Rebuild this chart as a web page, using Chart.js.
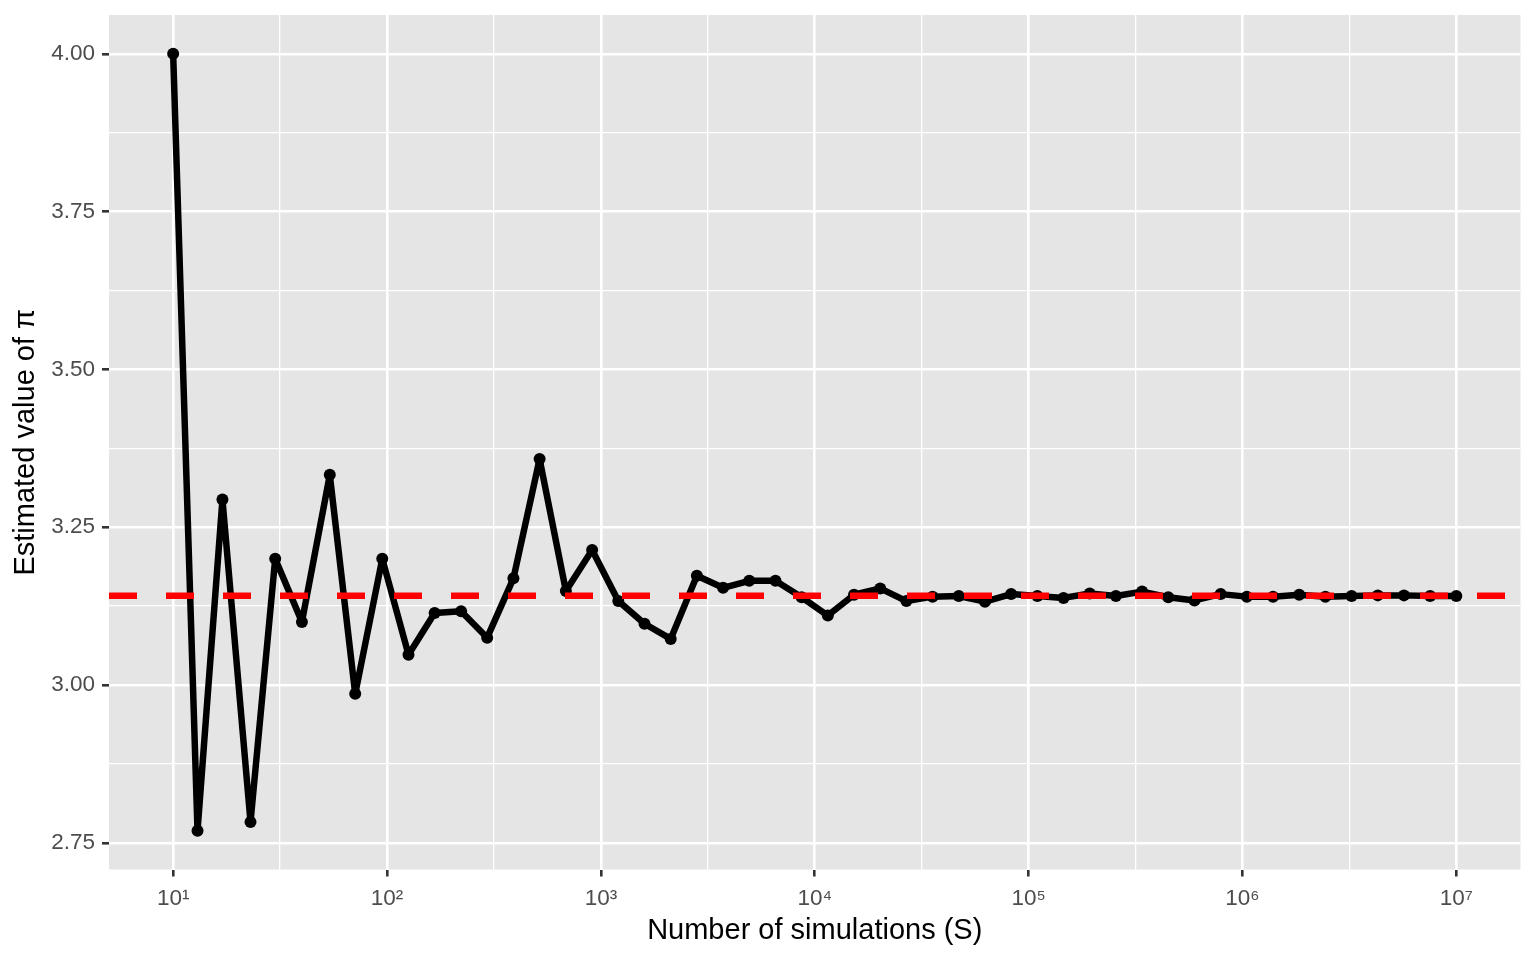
<!DOCTYPE html>
<html>
<head>
<meta charset="utf-8">
<script src="https://cdn.jsdelivr.net/npm/chart.js@4.4.1/dist/chart.umd.min.js"></script>
<style>
  html, body { margin: 0; padding: 0; background: #ffffff; }
  canvas { display: block; }
</style>
</head>
<body>
<canvas id="piChart" width="1536" height="960"></canvas>
<script>
// number of simulations S (log spaced, 10 .. 1e7)
const simulations = [
  10, 13, 17, 23, 30, 40, 54, 71, 95, 126,
  167, 222, 294, 390, 517, 686, 910, 1206, 1600, 2120,
  2811, 3727, 4941, 6551, 8685, 11513, 15264, 20235, 26826, 35564,
  47148, 62505, 82864, 109854, 145634, 193069, 255954, 339322, 449843, 596362,
  790604, 1048113, 1389495, 1842069, 2442053, 3237457, 4291934, 5689866, 7543120, 10000000
];

// estimated value of pi for each S
const piEstimates = [
  4.000, 2.769, 3.294, 2.783, 3.200, 3.100, 3.333, 2.986, 3.200, 3.048,
  3.114, 3.117, 3.075, 3.169, 3.358, 3.149, 3.214, 3.133, 3.097, 3.073,
  3.173, 3.154, 3.165, 3.165, 3.139, 3.110, 3.143, 3.153, 3.133, 3.140,
  3.141, 3.132, 3.144, 3.141, 3.138, 3.145, 3.141, 3.148, 3.139, 3.134,
  3.144, 3.140, 3.140, 3.143, 3.140, 3.141, 3.142, 3.142, 3.141, 3.141
];

const truePi = 3.14159;

// axis ranges and breaks
const xLogMin = 0.7;
const xLogMax = 7.3;
const xBreakExponents = [1, 1.5, 2, 2.5, 3, 3.5, 4, 4.5, 5, 5.5, 6, 6.5, 7];
const yMin = 2.7077;
const yMax = 4.0615;
const yBreaks = [2.75, 2.875, 3.0, 3.125, 3.25, 3.375, 3.5, 3.625, 3.75, 3.875, 4.0];

const superscripts = { 1: '¹', 2: '²', 3: '³', 4: '⁴', 5: '⁵', 6: '⁶', 7: '⁷' };

const FONT = '"Liberation Sans", Arial, Helvetica, sans-serif';
const TICK_TEXT = '#4D4D4D';
const TICK_MARK = '#333333';
const PANEL_BG = '#E5E5E5';

function isMajorX(v) {
  const e = Math.log10(v);
  return Math.abs(e - Math.round(e)) < 1e-6;
}
function isMajorY(v) {
  return Math.abs(v * 4 - Math.round(v * 4)) < 1e-6;
}

const panelBackground = {
  id: 'panelBackground',
  beforeDraw(chart) {
    const { ctx, chartArea: a } = chart;
    ctx.save();
    ctx.fillStyle = PANEL_BG;
    ctx.fillRect(a.left, a.top, a.right - a.left, a.bottom - a.top);
    ctx.restore();
  }
};

function zeroPadding(scale) {
  scale.paddingLeft = 0;
  scale.paddingRight = 0;
  scale.paddingTop = 0;
  scale.paddingBottom = 0;
}

const ctx = document.getElementById('piChart').getContext('2d');

new Chart(ctx, {
  type: 'line',
  data: {
    datasets: [
      {
        label: 'pi',
        data: [
          { x: Math.pow(10, xLogMin), y: truePi },
          { x: Math.pow(10, xLogMax), y: truePi }
        ],
        borderColor: '#FF0000',
        borderWidth: 6.5,
        borderDash: [28, 29],
        borderCapStyle: 'butt',
        pointRadius: 0,
        order: 0
      },
      {
        label: 'estimate',
        data: simulations.map((s, i) => ({ x: s, y: piEstimates[i] })),
        borderColor: '#000000',
        borderWidth: 6.5,
        borderJoinStyle: 'round',
        tension: 0,
        pointRadius: 6,
        pointBorderWidth: 0,
        pointBackgroundColor: '#000000',
        order: 1
      }
    ]
  },
  options: {
    responsive: false,
    animation: false,
    devicePixelRatio: 1,
    layout: { padding: { top: 15, right: 15.5, bottom: 0, left: 0 } },
    plugins: {
      legend: { display: false },
      tooltip: { enabled: false }
    },
    scales: {
      x: {
        type: 'logarithmic',
        position: 'bottom',
        bounds: 'data',
        min: Math.pow(10, xLogMin),
        max: Math.pow(10, xLogMax),
        afterBuildTicks: scale => {
          scale.ticks = xBreakExponents.map(e => ({ value: Math.pow(10, e) }));
        },
        afterFit: scale => {
          scale.height = 90.5;
          zeroPadding(scale);
        },
        border: { display: false },
        grid: {
          color: '#FFFFFF',
          lineWidth: c => (c.tick && isMajorX(c.tick.value)) ? 2.6 : 1.3,
          tickColor: c => (c.tick && isMajorX(c.tick.value)) ? TICK_MARK : 'rgba(0,0,0,0)',
          tickWidth: 2.6,
          tickLength: 7
        },
        ticks: {
          autoSkip: false,
          maxRotation: 0,
          padding: 9,
          color: TICK_TEXT,
          font: { family: FONT, size: 22.5 },
          callback: value => {
            if (!isMajorX(value)) return '';
            return '10' + superscripts[Math.round(Math.log10(value))];
          }
        },
        title: {
          display: true,
          text: 'Number of simulations (S)',
          color: '#000000',
          font: { family: FONT, size: 29 },
          padding: { top: 0, bottom: 11.5 }
        }
      },
      y: {
        type: 'linear',
        position: 'left',
        bounds: 'data',
        min: yMin,
        max: yMax,
        afterBuildTicks: scale => {
          scale.ticks = yBreaks.map(v => ({ value: v }));
        },
        afterFit: scale => {
          scale.width = 109;
          zeroPadding(scale);
        },
        border: { display: false },
        grid: {
          color: '#FFFFFF',
          lineWidth: c => (c.tick && isMajorY(c.tick.value)) ? 2.6 : 1.3,
          tickColor: c => (c.tick && isMajorY(c.tick.value)) ? TICK_MARK : 'rgba(0,0,0,0)',
          tickWidth: 2.6,
          tickLength: 7
        },
        ticks: {
          autoSkip: false,
          padding: 7,
          color: TICK_TEXT,
          font: { family: FONT, size: 22.5 },
          callback: value => isMajorY(value) ? value.toFixed(2) : ''
        },
        title: {
          display: true,
          text: 'Estimated value of π',
          color: '#000000',
          font: { family: FONT, size: 29 },
          padding: { top: 8.5, bottom: 0 }
        }
      }
    }
  },
  plugins: [panelBackground]
});
</script>
</body>
</html>
